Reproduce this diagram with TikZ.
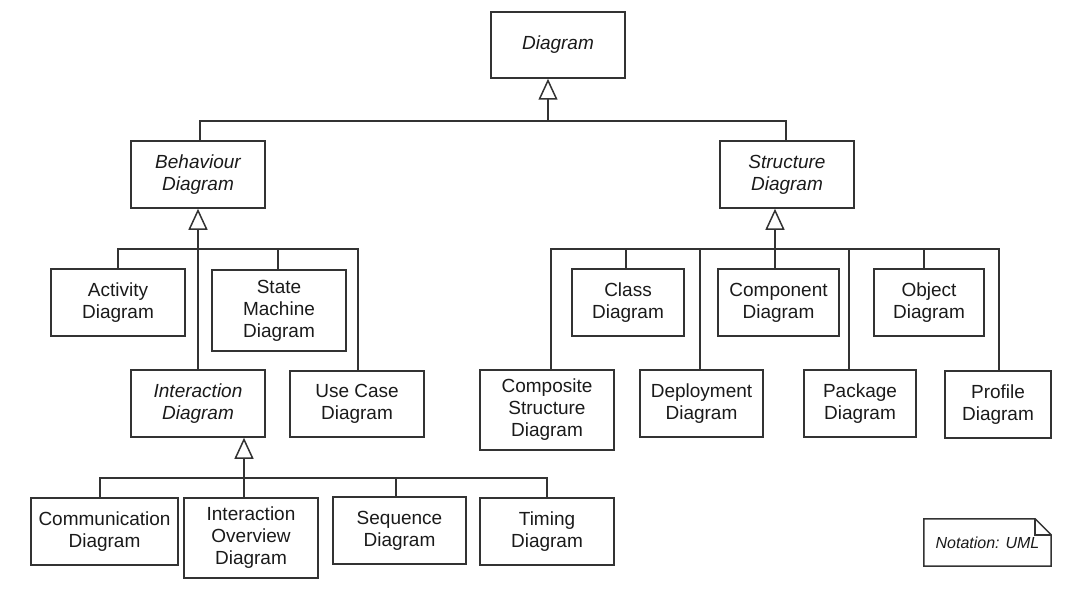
\documentclass[tikz,border=0pt]{standalone}
\usepackage{fontspec}
\setmainfont{Liberation Sans}
\usetikzlibrary{arrows.meta}
\definecolor{umlline}{HTML}{333333}
\definecolor{umltext}{HTML}{1A1A1A}
\tikzset{
  diag/.style={draw=umlline, line width=1.5pt, text=umltext, minimum width=134pt, minimum height=67pt, inner sep=0pt, align=center, font=\fontsize{19}{22}\selectfont},
  abstractdiag/.style={diag, font=\fontsize{19}{22}\selectfont\itshape},
  wire/.style={draw=umlline, line width=1.5pt},
  gen/.style={wire, -{Triangle[open, length=21pt, width=19pt]}},
}

\begin{document}
\begin{tikzpicture}[x=1pt, y=-1pt]
			\useasboundingbox (0,0) rectangle (1080,602);
			%%%%% START %%%%%
			
			\node[abstractdiag, minimum height=66pt] (diagram) at (558,45) {Diagram};
			\node[abstractdiag] (behaviour) at (198,174.5) {Behaviour\\Diagram};
			\node[abstractdiag] (structure) at (787,174.5) {Structure\\Diagram};
			
			\node[diag] (activity) at (118,302.5) {Activity\\Diagram};
			\node[diag, minimum height=81pt] (statemachine) at (279,310.5) {State\\Machine\\Diagram};
			\node[abstractdiag] (interaction) at (198,403.5) {Interaction\\Diagram};
			\node[diag, minimum height=66pt] (usecase) at (357,404) {Use Case\\Diagram};
			
			\node[diag, minimum width=147pt] (communication) at (104.5,531.5) {Communication\\Diagram};
			\node[diag, minimum height=80pt] (overview) at (251,538) {Interaction\\Overview\\Diagram};
			\node[diag, minimum width=133pt] (sequence) at (399.5,530.5) {Sequence\\Diagram};
			\node[diag] (timing) at (547,531.5) {Timing\\Diagram};
			
			\node[diag, minimum width=112pt] (class) at (628,302.5) {Class\\Diagram};
			\node[diag, minimum width=121pt] (component) at (778.5,302.5) {Component\\Diagram};
			\node[diag, minimum width=110pt] (object) at (929,302.5) {Object\\Diagram};
			\node[diag, minimum height=80pt] (composite) at (547,410) {Composite\\Structure\\Diagram};
			\node[diag, minimum width=123pt] (deployment) at (701.5,403.5) {Deployment\\Diagram};
			\node[diag, minimum width=112pt] (package) at (860,403.5) {Package\\Diagram};
			\node[diag, minimum width=106pt] (profile) at (998,404.5) {Profile\\Diagram};
			
			\coordinate (topbus) at (548,121);
			\coordinate (behbus) at (198,249);
			\coordinate (strbus) at (775,249);
			\coordinate (intbus) at (244,478);
			
			\draw[gen] (topbus) -- (topbus |- diagram.south);
			\draw[wire] (topbus) -| ([xshift=2pt]behaviour.north);
			\draw[wire] (topbus) -| ([xshift=-1pt]structure.north);
			
			\draw[gen] (interaction.north) -- (behaviour.south);
			\draw[wire] (behbus) -| (activity.north);
			\draw[wire] (behbus) -| ([xshift=-1pt]statemachine.north);
			\draw[wire] (behbus) -| ([xshift=1pt]usecase.north);
			
			\draw[gen] ([xshift=-7pt]overview.north) -- (intbus |- interaction.south);
			\draw[wire] (intbus) -| ([xshift=-4.5pt]communication.north);
			\draw[wire] (intbus) -| ([xshift=-3.5pt]sequence.north);
			\draw[wire] (intbus) -| (timing.north);
			
			\draw[gen] ([xshift=-3.5pt]component.north) -- (strbus |- structure.south);
			\draw[wire] (strbus) -| ([xshift=4pt]composite.north);
			\draw[wire] (strbus) -| ([xshift=-2pt]class.north);
			\draw[wire] (strbus) -| ([xshift=-1.5pt]deployment.north);
			\draw[wire] (strbus) -| ([xshift=-11pt]package.north);
			\draw[wire] (strbus) -| ([xshift=-5pt]object.north);
			\draw[wire] (strbus) -| ([xshift=1pt]profile.north);
			
			\node[font=\fontsize{16}{18}\selectfont\itshape, text=umltext, minimum width=127pt, minimum height=47pt, inner sep=0pt] (note) at (987.5,542.5) {\raisebox{-3pt}{Notation: UML}\hspace{10pt}};
			\draw[wire] (note.south west) -- (note.north west) -- ([xshift=-16pt]note.north east) -- ([yshift=-16pt]note.north east) -- (note.south east) -- cycle;
			\draw[wire] ([xshift=-16pt]note.north east) -- ([xshift=-16pt, yshift=-16pt]note.north east) -- ([yshift=-16pt]note.north east);
			
			%%%%% END %%%%%
\end{tikzpicture}
\end{document}
